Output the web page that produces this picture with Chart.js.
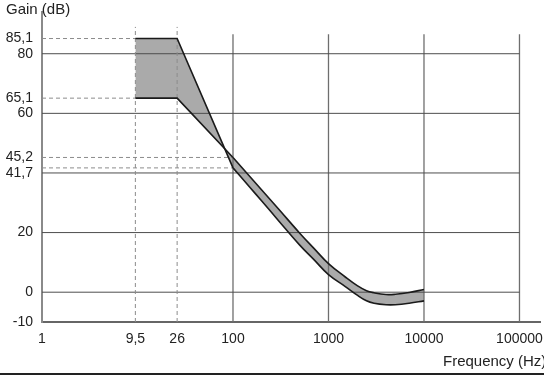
<!DOCTYPE html>
<html>
<head>
<meta charset="utf-8">
<script src="https://cdn.jsdelivr.net/npm/chart.js@4.4.1/dist/chart.umd.min.js"></script>
<style>
  html, body { margin: 0; padding: 0; background: #fff; overflow: hidden; }
  #wrap { position: relative; width: 544px; height: 375px; }
  .title { position: absolute; font: 15px "Liberation Sans", Arial, sans-serif; line-height: 15px; color: #222; white-space: nowrap; }
  #rule { position: absolute; left: 0; top: 373px; width: 544px; height: 2px; background: #222; }
</style>
</head>
<body>
<div id="wrap">
  <canvas id="chart" width="544" height="375"></canvas>
  <div class="title" style="left:6px;top:1px">Gain (dB)</div>
  <div class="title" style="left:443px;top:353px">Frequency (Hz)</div>
  <div id="rule"></div>
</div>
<script>
// axis ticks
const xTickValues = [1, 9.5, 26, 100, 1000, 10000, 100000];
const xTickLabels = ['1', '9,5', '26', '100', '1000', '10000', '100000'];
// the 41,7 label sits on the 40 grid line in the original drawing
const yTickValues = [-10, 0, 20, 40, 45.2, 60, 65.1, 80, 85.1];
const yTickLabels = ['-10', '0', '20', '41,7', '45,2', '60', '65,1', '80', '85,1'];

// grid
const gridFreqs = [100, 1000, 10000, 100000];
const gridGains = [0, 20, 40, 60, 80];

// reference markers
const markFreqs = [9.5, 26];
const markGainsLow = [85.1, 65.1];   // dashed up to 9,5 Hz
const markGainsMid = [45.2, 41.7];   // dashed up to 100 Hz

// gain band, straight part
const bandFreqStraight = [9.5, 26, 100];
const gainAStraight = [85.1, 85.1, 41.7];
const gainBStraight = [65.1, 65.1, 45.2];

// gain band, curved part
const bandFreqCurve = [100, 150, 200, 300, 500, 700, 1000, 1500, 2000, 2500, 3000, 4000, 5000, 7000, 10000];
const gainACurve = [41.7, 35.2, 30.6, 24.0, 15.8, 11.0, 5.9, 1.9, -1.0, -2.9, -3.7, -4.2, -4.2, -3.7, -2.9];
const gainBCurve = [45.2, 38.8, 34.3, 27.9, 19.8, 14.8, 9.6, 5.1, 2.2, 0.5, -0.2, -0.8, -0.7, -0.1, 0.9];

const X_MIN = 1, X_MAX = 164000, Y_MIN = -10, Y_MAX = 94;
const GRID_TOP = 86.5, MARK_TOP = 89;

const pts = (xs, ys) => xs.map((x, i) => ({ x, y: ys[i] }));

const bandStyle = { borderColor: '#1a1a1a', borderWidth: 1.6, backgroundColor: '#aaaaaa', order: 0 };

const datasets = [
  Object.assign({ data: pts(bandFreqStraight, gainAStraight), fill: false, tension: 0 }, bandStyle),
  Object.assign({ data: pts(bandFreqStraight, gainBStraight), fill: '-1', tension: 0 }, bandStyle),
  Object.assign({ data: pts(bandFreqCurve, gainACurve), fill: false, tension: 0.4 }, bandStyle),
  Object.assign({ data: pts(bandFreqCurve, gainBCurve), fill: '-1', tension: 0.4 }, bandStyle)
];

gridGains.forEach(g => datasets.push({
  data: [{ x: X_MIN, y: g }, { x: 100000, y: g }],
  borderColor: '#4d4d4d', borderWidth: 1, fill: false, order: 2
}));
gridFreqs.forEach(f => datasets.push({
  data: [{ x: f, y: Y_MIN }, { x: f, y: GRID_TOP }],
  borderColor: '#6e6e6e', borderWidth: 1.3, fill: false, order: 2
}));
markFreqs.forEach(f => datasets.push({
  data: [{ x: f, y: Y_MIN }, { x: f, y: MARK_TOP }],
  borderColor: '#8c8c8c', borderWidth: 1, borderDash: [4, 3], fill: false, order: 1
}));
markGainsLow.forEach(g => datasets.push({
  data: [{ x: X_MIN, y: g }, { x: markFreqs[0], y: g }],
  borderColor: '#8c8c8c', borderWidth: 1, borderDash: [4, 3], fill: false, order: 1
}));
markGainsMid.forEach(g => datasets.push({
  data: [{ x: X_MIN, y: g }, { x: 100, y: g }],
  borderColor: '#8c8c8c', borderWidth: 1, borderDash: [4, 3], fill: false, order: 1
}));

const tickFont = { family: '"Liberation Sans", Arial, sans-serif', size: 14 };

new Chart(document.getElementById('chart'), {
  type: 'line',
  data: { datasets },
  options: {
    responsive: false,
    animation: false,
    layout: { padding: { top: 12, right: 4, left: 0, bottom: 0 } },
    elements: { point: { radius: 0, hoverRadius: 0 } },
    plugins: {
      legend: { display: false },
      tooltip: { enabled: false },
      filler: { drawTime: 'beforeDatasetsDraw' }
    },
    scales: {
      x: {
        type: 'logarithmic',
        min: X_MIN,
        max: X_MAX,
        grid: { display: false, drawTicks: false },
        border: { display: true, color: '#666', width: 2 },
        afterBuildTicks: s => { s.ticks = xTickValues.map(v => ({ value: v })); },
        afterFit: s => { s.height = 53; s.paddingLeft = 0; s.paddingRight = 0; },
        ticks: {
          autoSkip: false, maxRotation: 0, padding: 9, color: '#222', font: tickFont,
          callback: v => xTickLabels[xTickValues.indexOf(v)]
        }
      },
      y: {
        type: 'linear',
        min: Y_MIN,
        max: Y_MAX,
        grid: { display: false, drawTicks: false },
        border: { display: true, color: '#8a8a8a', width: 2 },
        afterBuildTicks: s => { s.ticks = yTickValues.map(v => ({ value: v })); },
        afterFit: s => { s.width = 42; s.paddingTop = 0; s.paddingBottom = 0; },
        ticks: {
          autoSkip: false, padding: 9, color: '#222', font: tickFont,
          callback: v => yTickLabels[yTickValues.indexOf(v)]
        }
      }
    }
  }
});
</script>
</body>
</html>
